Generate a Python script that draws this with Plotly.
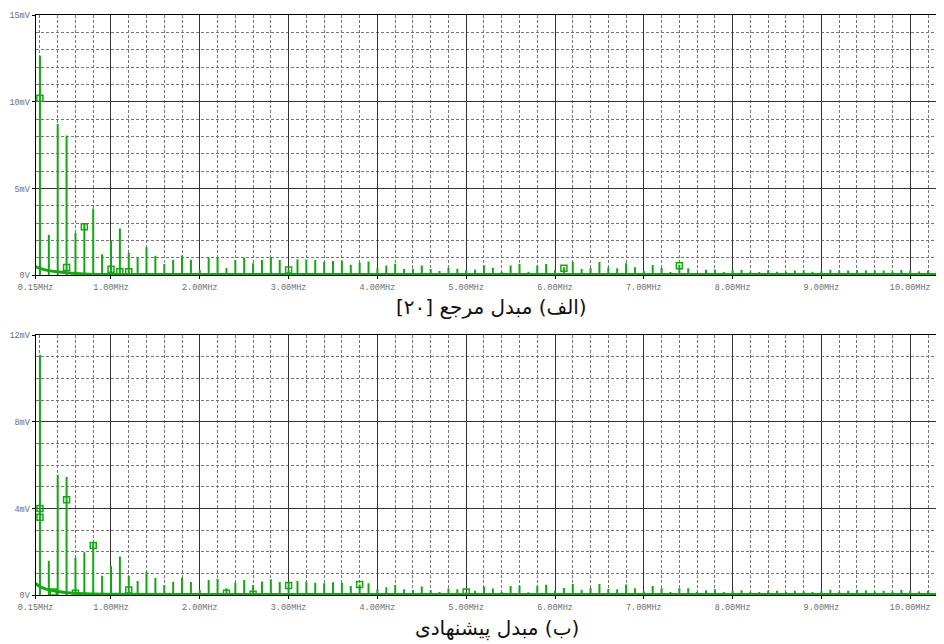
import plotly.graph_objects as go

# ---------------- data ----------------
freq_mhz = [0.2, 0.3, 0.4, 0.5, 0.6, 0.7, 0.8, 0.9, 1.0,
            1.1, 1.2, 1.3, 1.4, 1.5, 1.6, 1.7, 1.8, 1.9, 2.0,
            2.1, 2.2, 2.3, 2.4, 2.5, 2.6, 2.7, 2.8, 2.9, 3.0,
            3.1, 3.2, 3.3, 3.4, 3.5, 3.6, 3.7, 3.8, 3.9, 4.0,
            4.1, 4.2, 4.3, 4.4, 4.5, 4.6, 4.7, 4.8, 4.9, 5.0,
            5.1, 5.2, 5.3, 5.4, 5.5, 5.6, 5.7, 5.8, 5.9, 6.0,
            6.1, 6.2, 6.3, 6.4, 6.5, 6.6, 6.7, 6.8, 6.9, 7.0,
            7.1, 7.2, 7.3, 7.4, 7.5, 7.6, 7.7, 7.8, 7.9, 8.0,
            8.1, 8.2, 8.3, 8.4, 8.5, 8.6, 8.7, 8.8, 8.9, 9.0,
            9.1, 9.2, 9.3, 9.4, 9.5, 9.6, 9.7, 9.8, 9.9, 10.0,
            10.1, 10.2, 10.3]

# (a) reference converter, mV
ref_mv = [12.65, 2.34, 8.72, 8.06, 2.44, 2.95, 3.85, 1.22, 1.98,
          2.70, 1.28, 0.99, 1.62, 1.12, 0.65, 0.88, 1.14, 0.90, 0.30,
          1.03, 1.05, 0.42, 0.88, 1.03, 0.69, 0.88, 1.05, 0.88, 0.35,
          0.93, 0.91, 0.88, 0.76, 0.82, 0.84, 0.61, 0.72, 0.80, 0.44,
          0.57, 0.67, 0.36, 0.38, 0.57, 0.36, 0.25, 0.44, 0.38, 0.30,
          0.34, 0.57, 0.44, 0.20, 0.57, 0.65, 0.20, 0.57, 0.65, 0.30,
          0.46, 0.76, 0.36, 0.42, 0.76, 0.46, 0.40, 0.70, 0.46, 0.25,
          0.59, 0.44, 0.19, 0.61, 0.40, 0.15, 0.32, 0.34, 0.19, 0.29,
          0.30, 0.20, 0.19, 0.29, 0.20, 0.20, 0.27, 0.27, 0.20, 0.22,
          0.32, 0.27, 0.27, 0.30, 0.29, 0.27, 0.27, 0.22, 0.30, 0.27,
          0.22, 0.27, 0.27]

# (b) proposed converter, mV
prop_mv = [11.09, 1.59, 5.56, 5.45, 1.72, 1.98, 2.45, 0.90, 1.35,
           1.79, 0.89, 0.66, 1.09, 0.80, 0.47, 0.61, 0.81, 0.61, 0.25,
           0.70, 0.75, 0.32, 0.58, 0.70, 0.47, 0.64, 0.74, 0.61, 0.58,
           0.66, 0.63, 0.58, 0.55, 0.60, 0.58, 0.43, 0.50, 0.55, 0.29,
           0.37, 0.47, 0.28, 0.25, 0.40, 0.23, 0.15, 0.31, 0.28, 0.15,
           0.21, 0.40, 0.31, 0.15, 0.43, 0.44, 0.14, 0.43, 0.49, 0.21,
           0.34, 0.52, 0.26, 0.34, 0.52, 0.29, 0.28, 0.50, 0.32, 0.18,
           0.43, 0.32, 0.15, 0.32, 0.32, 0.15, 0.23, 0.28, 0.15, 0.21,
           0.23, 0.15, 0.15, 0.21, 0.21, 0.15, 0.21, 0.18, 0.15, 0.18,
           0.26, 0.18, 0.21, 0.26, 0.23, 0.18, 0.21, 0.18, 0.26, 0.21,
           0.18, 0.21, 0.21]

# noise floor
floor_f = [0.15, 0.2, 0.3, 0.4, 0.5, 0.7, 1.0, 2.0, 5.0, 10.38]
ref_floor = [0.50, 0.40, 0.27, 0.20, 0.15, 0.08, 0.05, 0.04, 0.04, 0.04]
prop_floor = [0.55, 0.40, 0.25, 0.18, 0.12, 0.07, 0.05, 0.04, 0.04, 0.04]

# trace symbols
ref_mk_f = [0.2, 0.5, 0.7, 1.0, 1.1, 1.2, 3.0, 6.1, 7.4]
ref_mk_v = [10.2, 0.45, 2.8, 0.35, 0.2, 0.2, 0.3, 0.4, 0.55]
prop_mk_f = [0.2, 0.2, 0.5, 0.8, 1.2, 3.0, 3.8, 5.0, 2.3, 2.6, 0.35, 0.6]
prop_mk_v = [4.0, 3.6, 4.4, 2.3, 0.25, 0.45, 0.5, 0.15, 0.1, 0.05, 0.15, 0.1]

x_tickvals = [0.15, 1, 2, 3, 4, 5, 6, 7, 8, 9, 10]
x_ticktext = ["0.15MHz", "1.00MHz", "2.00MHz", "3.00MHz", "4.00MHz", "5.00MHz",
              "6.00MHz", "7.00MHz", "8.00MHz", "9.00MHz", "10.00MHz"]
ref_yvals = [0, 5, 10, 15]
ref_ytext = ["0V", "5mV", "10mV", "15mV"]
prop_yvals = [0, 4, 8, 12]
prop_ytext = ["0V", "4mV", "8mV", "12mV"]

cap_a = "\u202b(الف) مبدل مرجع [۲۰]\u202c"
cap_b = "\u202b(ب) مبدل پیشنهادی\u202c"

GREEN = "#14a614"
OFF = 8  # page body margin
W, H = 944 - OFF, 644 - OFF


def px_x(x):
    return (x - OFF) / W


def px_y(y):
    return 1 - (y - OFF) / H


def spikes(f, v):
    xs, ys = [], []
    for a, b in zip(f, v):
        xs += [a, a, None]
        ys += [0, b, None]
    return xs, ys


fig = go.Figure()
for f_, v_, fl, mf, mv, xa, ya in [
    (freq_mhz, ref_mv, ref_floor, ref_mk_f, ref_mk_v, "x", "y"),
    (freq_mhz, prop_mv, prop_floor, prop_mk_f, prop_mk_v, "x2", "y2"),
]:
    fig.add_trace(go.Scatter(x=floor_f, y=fl, mode="lines",
                             line=dict(color=GREEN, width=3, shape="spline"),
                             xaxis=xa, yaxis=ya, hoverinfo="skip"))
    sx, sy = spikes(f_, v_)
    fig.add_trace(go.Scatter(x=sx, y=sy, mode="lines",
                             line=dict(color=GREEN, width=2),
                             xaxis=xa, yaxis=ya, connectgaps=False))
    fig.add_trace(go.Scatter(x=mf, y=mv, mode="markers",
                             marker=dict(symbol="square-open", size=6,
                                         color=GREEN, line=dict(width=1.5, color=GREEN)),
                             xaxis=xa, yaxis=ya))

tickfont = dict(family="Liberation Mono, Courier New, monospace", size=8.5, color="#6e6e6e")


def xaxis(anchor):
    return dict(domain=[px_x(35.5), 1.0], range=[0.15, 10.38], anchor=anchor, automargin=False,
                tickmode="array", tickvals=x_tickvals, ticktext=x_ticktext,
                tickfont=tickfont, ticks="outside", ticklen=3, tickcolor="#000",
                showline=True, linecolor="#000", linewidth=1, mirror=True,
                showgrid=True, gridcolor="#333", gridwidth=1,
                zeroline=False,
                minor=dict(tickmode="linear", tick0=0, dtick=0.2, showgrid=True,
                           gridcolor="#777", griddash="3px,2px", gridwidth=1, ticks=""))


def yaxis(anchor, top, bot, rng, vals, txt):
    return dict(domain=[px_y(bot), px_y(top)], range=rng, anchor=anchor, automargin=False,
                tickmode="array", tickvals=vals, ticktext=txt,
                tickfont=tickfont, ticks="outside", ticklen=3, tickcolor="#000",
                showline=True, linecolor="#000", linewidth=1,
                showgrid=True, gridcolor="#333", gridwidth=1, zeroline=False,
                minor=dict(tickmode="linear", tick0=0, dtick=1, showgrid=True,
                           gridcolor="#777", griddash="3px,2px", gridwidth=1, ticks=""))


capfont = dict(family="DejaVu Sans", size=20, color="#111")

fig.update_layout(
    width=W, height=H,
    margin=dict(l=0, r=0, t=0, b=0, pad=0),
    paper_bgcolor="white", plot_bgcolor="white",
    showlegend=False,
    xaxis=xaxis("y"),
    yaxis=yaxis("x", 15, 275.3, [0, 15], ref_yvals, ref_ytext),
    xaxis2=xaxis("y2"),
    yaxis2=yaxis("x2", 335, 595.3, [0, 12], prop_yvals, prop_ytext),
    annotations=[
        dict(text=cap_a, xref="paper", yref="paper", x=px_x(491), y=px_y(307),
             showarrow=False, font=capfont, xanchor="center", yanchor="middle"),
        dict(text=cap_b, xref="paper", yref="paper", x=px_x(497), y=px_y(628),
             showarrow=False, font=capfont, xanchor="center", yanchor="middle"),
    ],
)

fig.write_html("out.html")
